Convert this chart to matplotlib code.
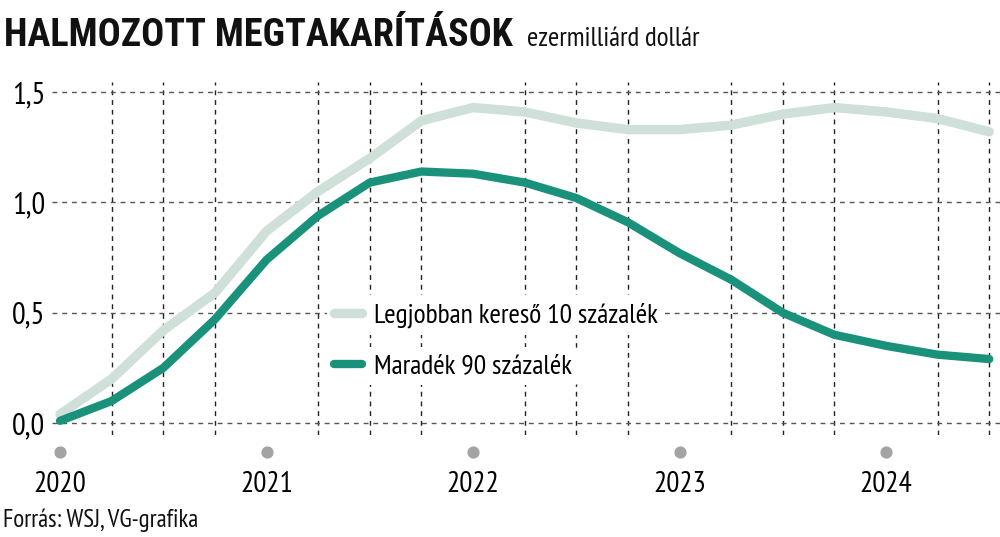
import numpy as np
import pandas as pd
import matplotlib
matplotlib.use("Agg")
import matplotlib.pyplot as plt
import matplotlib.transforms as mtransforms

plt.rcParams.update({
    "font.family": ["PT Sans Narrow", "DejaVu Sans"],
    "font.size": 19,
})

# -----------------------------------------------------
# Data (ezermilliárd dollár, quarterly)
# -----------------------------------------------------
quarters = pd.period_range("2020Q1", "2024Q3", freq="Q")
top10 = [0.04, 0.20, 0.42, 0.59, 0.87, 1.05, 1.20, 1.37, 1.43, 1.41,
         1.36, 1.33, 1.33, 1.35, 1.40, 1.43, 1.41, 1.38, 1.32]
rest90 = [0.01, 0.10, 0.25, 0.47, 0.74, 0.94, 1.09, 1.14, 1.13, 1.09,
          1.02, 0.91, 0.77, 0.65, 0.50, 0.40, 0.35, 0.31, 0.29]
years = [2020, 2021, 2022, 2023, 2024]
yticks = [0.0, 0.5, 1.0, 1.5]
ytick_labels = ["0,0", "0,5", "1,0", "1,5"]

x = np.array([q.year + (q.quarter - 1) / 4 for q in quarters])

light = "#cfe0d9"
dark = "#1a927b"

# -----------------------------------------------------
# Plot
# -----------------------------------------------------
fig = plt.figure(figsize=(10, 5.37), dpi=100)
ax = fig.add_axes([0.052, 0.19, 0.948, 0.657])

ax.plot(x, top10, color=light, lw=6.8, solid_capstyle="round",
        solid_joinstyle="round", zorder=3, label="Legjobban kereső 10 százalék")
ax.plot(x, rest90, color=dark, lw=6.0, solid_capstyle="round",
        solid_joinstyle="round", zorder=4, label="Maradék 90 százalék")

ax.set_xlim(2019.961, 2024.552)
ax.set_ylim(-0.054, 1.545)

ax.set_xticks(x, minor=True)
ax.set_xticks(years)
ax.set_xticklabels([str(y) for y in years])
ax.set_yticks(yticks)
ax.set_yticklabels(ytick_labels)

ax.grid(True, which="minor", axis="x", color="#222222", lw=1.0,
        linestyle=(0, (3.5, 3.5)), zorder=1)
ax.grid(True, which="major", axis="y", color="#555555", lw=1.0,
        linestyle=(0, (3.5, 3.5)), zorder=1)
ax.set_axisbelow(True)

ax.tick_params(axis="both", which="both", length=0)
ax.tick_params(axis="x", pad=26, labelsize=21)
ax.tick_params(axis="y", pad=5, labelsize=22)

for s in ax.spines.values():
    s.set_visible(False)

# grey year markers below the axis
trans = mtransforms.blended_transform_factory(ax.transData, fig.transFigure)
ax.scatter(years, [1 - 452 / 537] * len(years), s=60, color="#a3a3a3",
           transform=trans, clip_on=False, zorder=5)

# legend: one box per entry so the grid is masked row by row
h, l = ax.get_legend_handles_labels()
leg1 = ax.legend([h[0]], [l[0]], loc="center left",
                 bbox_to_anchor=(0.290, 0.34), frameon=True,
                 handlelength=1.0, handletextpad=0.45, fontsize=20,
                 borderpad=0.25, borderaxespad=0)
leg1.get_frame().set_edgecolor("none")
leg1.get_frame().set_facecolor("white")
leg1.get_frame().set_alpha(1)
ax.add_artist(leg1)
leg2 = ax.legend([h[1]], [l[1]], loc="center left",
                 bbox_to_anchor=(0.290, 0.195), frameon=True,
                 handlelength=1.0, handletextpad=0.45, fontsize=20,
                 borderpad=0.25, borderaxespad=0)
leg2.get_frame().set_edgecolor("none")
leg2.get_frame().set_facecolor("white")
leg2.get_frame().set_alpha(1)

# titles and source
fig.text(0.004, 1 - 46 / 537, "HALMOZOTT MEGTAKARÍTÁSOK", fontsize=27.5,
         fontweight="bold", family="Roboto Condensed", va="baseline",
         ha="left", color="#111111")
fig.text(0.527, 1 - 46 / 537, "ezermilliárd dollár", fontsize=19.5,
         va="baseline", ha="left", color="#111111")
fig.text(0.003, 1 - 527 / 537, "Forrás: WSJ, VG-grafika", fontsize=18,
         va="baseline", ha="left", color="#111111")

plt.savefig("out.png", dpi=100)
